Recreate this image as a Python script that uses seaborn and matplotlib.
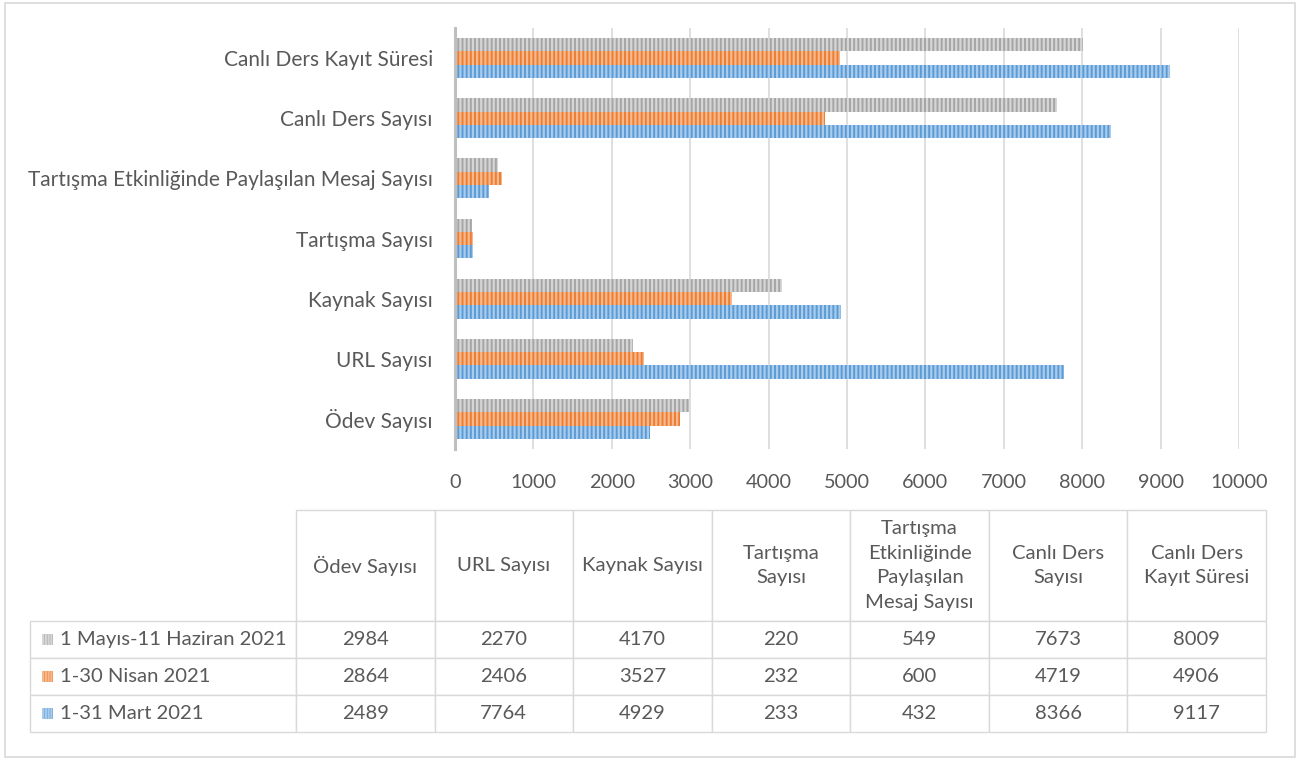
import matplotlib.pyplot as plt
import matplotlib.patches as mpatches
from matplotlib.table import Table
import pandas as pd
import seaborn as sns

# Data (table column order = bottom-to-top order of the bars)
categories = ['Ödev Sayısı', 'URL Sayısı', 'Kaynak Sayısı', 'Tartışma Sayısı',
              'Tartışma Etkinliğinde Paylaşılan Mesaj Sayısı', 'Canlı Ders Sayısı',
              'Canlı Ders Kayıt Süresi']
header_labels = ['Ödev Sayısı', 'URL Sayısı', 'Kaynak Sayısı', 'Tartışma\nSayısı',
                 'Tartışma\nEtkinliğinde\nPaylaşılan\nMesaj Sayısı', 'Canlı Ders\nSayısı',
                 'Canlı Ders\nKayıt Süresi']
periods = ['1 Mayıs-11 Haziran 2021', '1-30 Nisan 2021', '1-31 Mart 2021']
mayis = [2984, 2270, 4170, 220, 549, 7673, 8009]
nisan = [2864, 2406, 3527, 232, 600, 4719, 4906]
mart = [2489, 7764, 4929, 233, 432, 8366, 9117]
series = [mayis, nisan, mart]

colors = ['#A5A5A5', '#ED7D31', '#5B9BD5']
hatch_colors = ['#d6d6d6', '#f6b98e', '#a9cbec']
text_color = '#595959'

sns.set_style('white')
plt.rcParams['font.family'] = ['Lato', 'DejaVu Sans']
plt.rcParams['hatch.linewidth'] = 1.6

rows = []
for p, vals in zip(periods, series):
    for c, v in zip(categories, vals):
        rows.append({'cat': c, 'period': p, 'value': v})
df = pd.DataFrame(rows)

fig = plt.figure(figsize=(13.12, 7.6), dpi=100)
ax = fig.add_axes([455 / 1312, 1 - 449 / 760, 784 / 1312, 421 / 760])

sns.barplot(data=df, y='cat', x='value', hue='period', order=categories[::-1],
            hue_order=periods, palette=colors, saturation=1, width=0.665,
            orient='h', legend=False, ax=ax)

for cont, hc in zip(ax.containers, hatch_colors):
    for bar in cont:
        bar.set_hatch('||||')
        bar.set_edgecolor(hc)
        bar.set_linewidth(0)

ax.set_xlim(0, 10000)
ax.set_xticks(range(0, 10001, 1000))
ax.grid(axis='x', color='#d9d9d9', linewidth=1.2)
ax.set_axisbelow(True)
for s in ['top', 'right', 'bottom']:
    ax.spines[s].set_visible(False)
ax.spines['left'].set_color('#bfbfbf')
ax.spines['left'].set_linewidth(2.2)
ax.set_xlabel('')
ax.set_ylabel('')
ax.tick_params(axis='y', length=0, pad=16, labelsize=15, labelcolor=text_color)
ax.tick_params(axis='x', length=0, pad=18, labelsize=14.3, labelcolor=text_color)

# Data table below the chart (sizes as fractions of the table area)
tax = fig.add_axes([30 / 1312, 1 - 732 / 760, 1236 / 1312, 222 / 760])
tax.axis('off')
total_w, total_h = 1236, 222
label_w = 266 / total_w
col_w = (1 - label_w) / len(categories)
head_h = 111 / total_h
row_h = (1 - head_h) / len(periods)

tbl = Table(tax, bbox=[label_w, 0, 1 - label_w, 1])
for j, h in enumerate(header_labels):
    cell = tbl.add_cell(0, j, width=col_w, height=head_h, text=h, loc='center')
    cell.get_text().set_linespacing(1.55)
for i, (p, vals) in enumerate(zip(periods, series)):
    cell = tbl.add_cell(i + 1, -1, width=label_w, height=row_h, text=p, loc='left')
    cell.PAD = (30 / total_w) / label_w
    for j, v in enumerate(vals):
        tbl.add_cell(i + 1, j, width=col_w, height=row_h, text=str(v), loc='center')
tbl.auto_set_font_size(False)
tbl.set_fontsize(14.6)
for cell in tbl.get_celld().values():
    cell.set_edgecolor('#d9d9d9')
    cell.set_linewidth(1)
    cell.get_text().set_color(text_color)
tax.add_table(tbl)

# legend keys inside the row label cells
for i, (c, hc) in enumerate(zip(colors, hatch_colors)):
    yc = 1 - head_h - row_h * (i + 0.5)
    key = mpatches.Rectangle((12 / total_w, yc - 5.5 / total_h), 11 / total_w, 11 / total_h,
                             facecolor=c, edgecolor=hc, hatch='||||||', linewidth=0,
                             transform=tax.transAxes)
    tax.add_patch(key)

# outer frame
fig.add_artist(mpatches.Rectangle((5 / 1312, 3 / 760), 1290 / 1312, 754 / 760,
                                  transform=fig.transFigure, fill=False,
                                  edgecolor='#d9d9d9', linewidth=1.2))

fig.savefig('out.png', dpi=100)
